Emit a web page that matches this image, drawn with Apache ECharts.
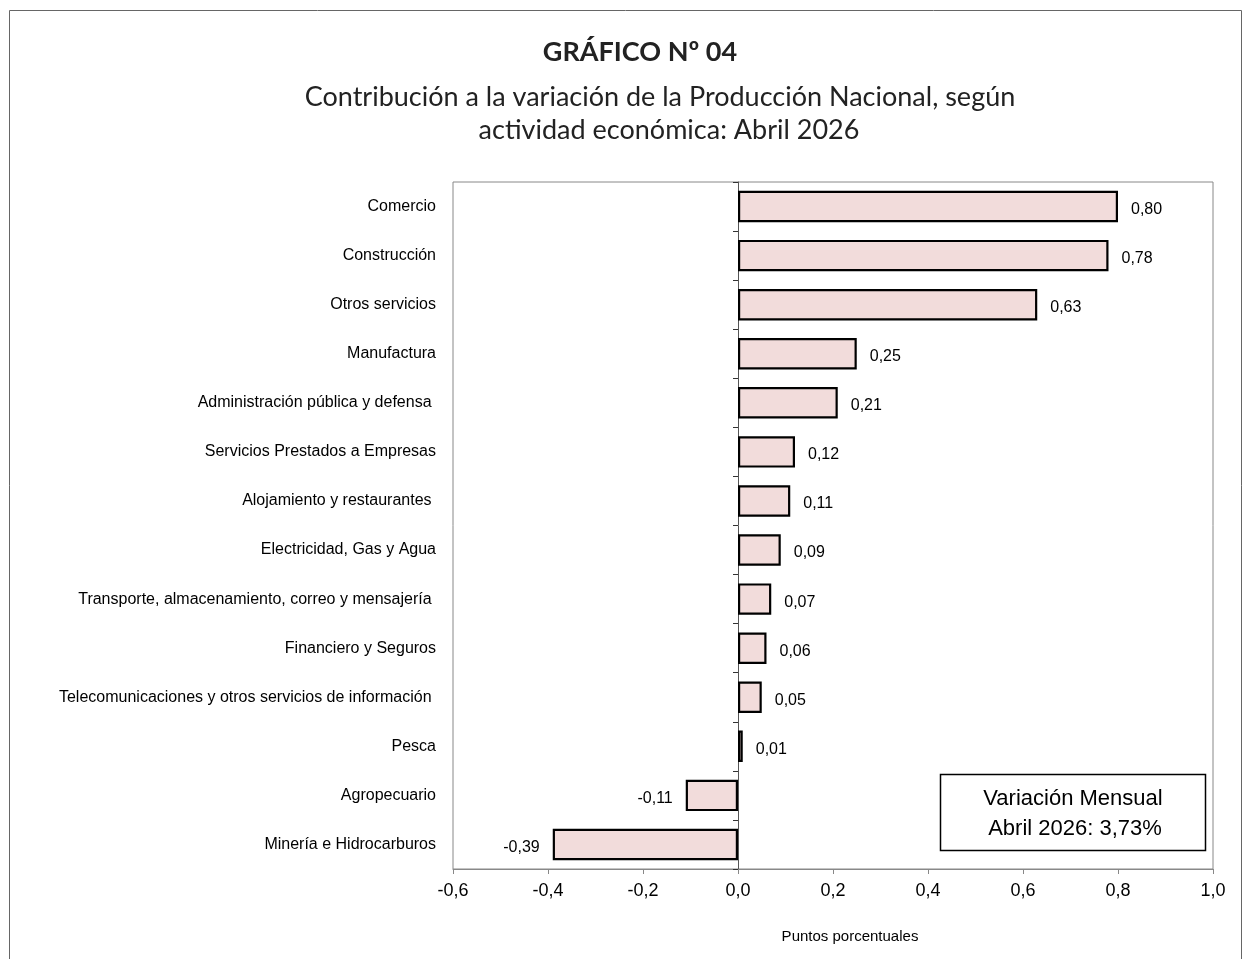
<!DOCTYPE html>
<html><head><meta charset="utf-8">
<script src="https://cdn.jsdelivr.net/npm/echarts@6/dist/echarts.min.js"></script>
<style>html,body{margin:0;padding:0;background:#fff}#c{width:1242px;height:959px}</style>
</head><body><div id="c"></div>
<script>
const categories = [
  "Comercio",
  "Construcción",
  "Otros servicios",
  "Manufactura",
  "Administración pública y defensa ",
  "Servicios Prestados a Empresas",
  "Alojamiento y restaurantes ",
  "Electricidad, Gas y Agua",
  "Transporte, almacenamiento, correo y mensajería ",
  "Financiero y Seguros",
  "Telecomunicaciones y otros servicios de información ",
  "Pesca",
  "Agropecuario",
  "Minería e Hidrocarburos"
];
const values = [0.80, 0.78, 0.63, 0.25, 0.21, 0.12, 0.11, 0.09, 0.07, 0.06, 0.05, 0.01, -0.11, -0.39];
const xTicks = [-0.6, -0.4, -0.2, 0.0, 0.2, 0.4, 0.6, 0.8, 1.0];
const titleText = "GRÁFICO Nº 04";
const subtitleLines = ["Contribución a la variación de la Producción Nacional, según", "actividad económica: Abril 2026"];
const boxLines = ["Variación Mensual", "Abril 2026: 3,73%"];
const axisName = "Puntos porcentuales";

const SANS = '"Liberation Sans", Arial, sans-serif';
const TITLEF = 'Lato, "Open Sans", sans-serif';

const chart = echarts.init(document.getElementById('c'), null, {renderer: 'canvas'});
const fmt = v => v.toFixed(2).replace('.', ',');

const barData = values.map(v => ({
  value: v,
  label: { position: v < 0 ? 'left' : 'right' }
}));

chart.setOption({
  animation: false,
  backgroundColor: '#fff',
  grid: { left: 453, right: 29, top: 182, bottom: 90, show: true, borderColor: '#888', borderWidth: 1, containLabel: false },
  xAxis: {
    type: 'value', min: -0.6, max: 1.0, interval: 0.2,
    axisLine: { show: true, onZero: false, lineStyle: { color: '#888' } },
    axisTick: { show: true, length: 5, lineStyle: { color: '#888' } },
    splitLine: { show: false },
    axisLabel: { color: '#000', fontFamily: SANS, fontSize: 18, margin: 13,
      formatter: v => { const t = xTicks.find(x => Math.abs(x - v) < 1e-9); return (t !== undefined ? t : v).toFixed(1).replace('.', ','); } }
  },
  yAxis: [
    {
      type: 'category', data: categories, inverse: true,
      axisLine: { show: false, onZero: false },
      axisTick: { show: false },
      axisLabel: { color: '#000', fontFamily: SANS, fontSize: 16, margin: 17 }
    },
    {
      type: 'category', data: categories, inverse: true, position: 'left',
      axisLine: { show: true, onZero: true, lineStyle: { color: '#555' } },
      axisTick: { show: true, length: 5, lineStyle: { color: '#333' } },
      axisLabel: { show: false }
    }
  ],
  series: [{
    type: 'bar', yAxisIndex: 0, data: barData, barWidth: '64%',
    itemStyle: { color: '#F2DCDB', borderColor: '#000', borderWidth: 2.2 },
    label: { show: true, distance: 13, offset: [0, 3], color: '#000', fontFamily: SANS, fontSize: 16,
      formatter: p => fmt(p.value) }
  }],
  graphic: [
    { type: 'rect', shape: { x: 9.5, y: 10.5, width: 1232, height: 960 }, style: { fill: 'none', stroke: '#666', lineWidth: 1 }, silent: true, z: 100 },
    { type: 'text', style: { text: titleText, x: 640, y: 52, align: 'center', verticalAlign: 'middle', font: 'bold 27px ' + TITLEF, fill: '#222' } },
    { type: 'text', style: { text: subtitleLines[0], x: 660, y: 97, align: 'center', verticalAlign: 'middle', font: '27px ' + TITLEF, fill: '#222' } },
    { type: 'text', style: { text: subtitleLines[1], x: 669, y: 130, align: 'center', verticalAlign: 'middle', font: '27px ' + TITLEF, fill: '#222' } },
    { type: 'rect', shape: { x: 940.5, y: 774.5, width: 265, height: 76 }, style: { fill: '#fff', stroke: '#000', lineWidth: 1.5 }, z: 50 },
    { type: 'text', style: { text: boxLines[0], x: 1073, y: 799, align: 'center', verticalAlign: 'middle', font: '22px ' + SANS, fill: '#000' }, z: 51 },
    { type: 'text', style: { text: boxLines[1], x: 1075, y: 829, align: 'center', verticalAlign: 'middle', font: '22px ' + SANS, fill: '#000' }, z: 51 },
    { type: 'text', style: { text: axisName, x: 850, y: 937, align: 'center', verticalAlign: 'middle', font: '15px ' + SANS, fill: '#000' } }
  ]
});
</script>
</body></html>
